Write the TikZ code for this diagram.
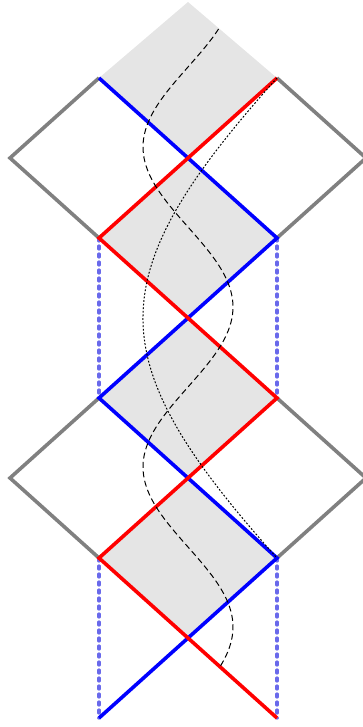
\documentclass[tikz,border=0pt]{standalone}
\begin{document}
\begin{tikzpicture}[x=1pt,y=-1pt,
  fillgray/.style={fill=gray!20,draw=none},
  bluel/.style={draw=blue,line width=3.6pt},
  redl/.style={draw=red,line width=3.6pt},
  grayl/.style={draw=gray,line width=3.6pt,line join=miter},
  vdash/.style={draw={rgb,255:red,105;green,105;blue,235},line width=3.2pt,dash pattern=on 3pt off 5pt,line cap=round},
  curvedash/.style={draw=black,line width=1pt,dash pattern=on 6pt off 3.5pt},
  curvedot/.style={draw=black,line width=1pt,dash pattern=on 1.8pt off 1.8pt}]
\useasboundingbox (0,0) rectangle (363,727);
\clip (0,0) rectangle (363,727);
% corner coordinates
\coordinate (T) at (188,2);
\coordinate (L1) at (99,78);   \coordinate (R1) at (277,78);
\coordinate (C1) at (188,158);
\coordinate (L2) at (99,238);  \coordinate (R2) at (277,238);
\coordinate (C2) at (188,318);
\coordinate (L3) at (99,398);  \coordinate (R3) at (277,398);
\coordinate (C3) at (188,478);
\coordinate (L4) at (99,558);  \coordinate (R4) at (277,558);
\coordinate (C4) at (188,638);
\coordinate (L5) at (99,718);  \coordinate (R5) at (277,718);
\coordinate (OL1) at (10,158); \coordinate (OR1) at (366,158);
\coordinate (OL2) at (10,478); \coordinate (OR2) at (366,478);
% gray column of diamonds
\fill[fillgray] (T) -- (R1) -- (C1) -- (R2) -- (C2) -- (R3) -- (C3) -- (R4) -- (C4)
  -- (L4) -- (C3) -- (L3) -- (C2) -- (L2) -- (C1) -- (L1) -- cycle;
% vertical dashed lines
\draw[vdash] (L2) -- (L3);
\draw[vdash] (R2) -- (R3);
\draw[vdash] (L4) -- (L5);
\draw[vdash] (R4) -- (R5);
% gray outer diamonds
\draw[grayl] (L1) -- (OL1) -- (L2);
\draw[grayl] (R1) -- (OR1) -- (R2);
\draw[grayl] (L3) -- (OL2) -- (L4);
\draw[grayl] (R3) -- (OR2) -- (R4);
% blue lines
\draw[bluel] (L1) -- (R2) -- (L3) -- (R4) -- (L5);
% red lines
\draw[redl] (R1) -- (L2) -- (R3) -- (L4) -- (R5);
% curves
\draw[curvedot] (R1) .. controls (98.3,278) and (98.3,358) .. (R4);
\draw[curvedash] plot[domain=29:668,samples=160,smooth,variable=\t]
  ({188-45*sin(1.125*(\t-67))},{\t});
\end{tikzpicture}
\end{document}
